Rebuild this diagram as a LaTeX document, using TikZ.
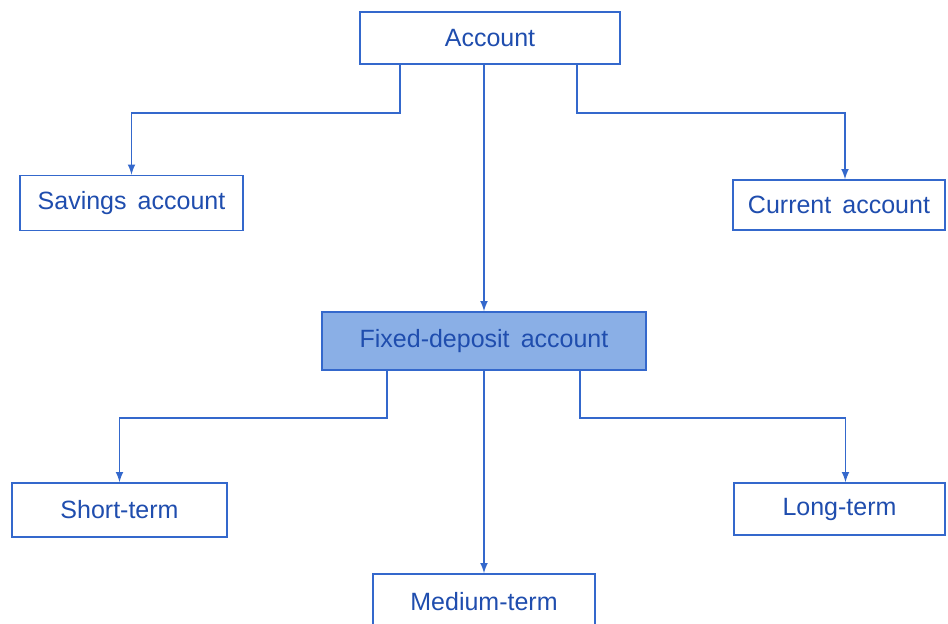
\documentclass[tikz,border=0pt]{standalone}
\usepackage{fontspec}
\setmainfont{Liberation Sans}
\usepackage{xcolor}
\usetikzlibrary{positioning,arrows}

\definecolor{lineblue}{HTML}{3468CC}
\definecolor{textblue}{HTML}{1F4DAE}
\definecolor{fillblue}{HTML}{8AAFE6}

\begin{document}
\begin{tikzpicture}[x=0.5pt,y=-0.5pt,
  acct/.style={
   draw=lineblue,
   line width=0.8pt,
   fill=white,
   text=textblue,
   font=\fontsize{12.5}{15}\selectfont,
   inner sep=0pt
  },
  fixd/.style={
   acct,
   fill=fillblue
  },
  conn/.style={
   draw=lineblue,
   line width=0.75pt
  }]
  \useasboundingbox (0,0) rectangle (948,624);

  \node[acct,minimum width=130pt,minimum height=26pt] at (490,38)
      (acc) {Account};
  \node[acct,minimum width=111.5pt,minimum height=27.5pt] at (131.5,203)
      (sav) {Savings\, account};
  \node[acct,minimum width=106pt,minimum height=25pt] at (839,205)
      (cur) {Current\, account};
  \node[fixd,minimum width=162pt,minimum height=29pt] at (484,341)
      (fix) {Fixed-deposit\, account};
  \node[acct,minimum width=107.5pt,minimum height=27pt] at (119.5,510)
      (sht) {Short-term};
  \node[acct,minimum width=111pt,minimum height=28pt] at (484,602)
      (med) {Medium-term};
  \node[acct,minimum width=105.5pt,minimum height=26pt] at (839.5,509)
      (lng) {Long-term};

  % account -> three kinds
  \draw[conn,-latex] ([xshift=-45pt]acc.south) -- ++(0,48) -| (sav.north);
  \draw[conn,-latex] ([xshift=43.5pt]acc.south) -- ++(0,48) -| ([xshift=3pt]cur.north);
  \draw[conn,-latex] (acc.south -| fix.north) -- (fix.north);

  % fixed deposit -> terms
  \draw[conn,-latex] ([xshift=-48.5pt]fix.south) -- ++(0,47) -| (sht.north);
  \draw[conn,-latex] ([xshift=48pt]fix.south) -- ++(0,47) -| ([xshift=3pt]lng.north);
  \draw[conn,-latex] (fix.south) -- (med.north);

\end{tikzpicture}
\end{document}
